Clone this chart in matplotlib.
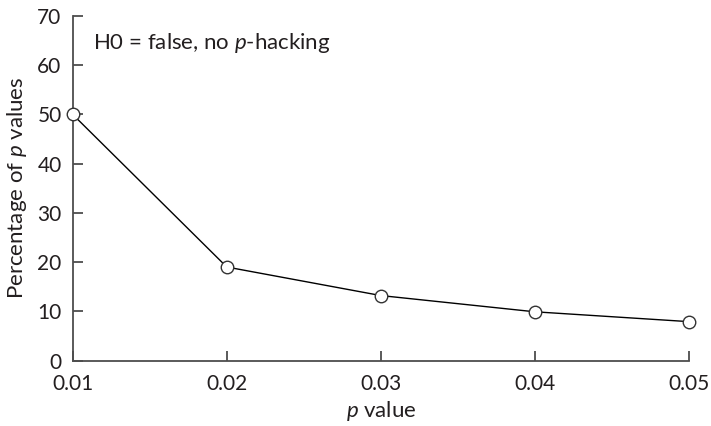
import matplotlib.pyplot as plt

# Data
p_vals = [0.01, 0.02, 0.03, 0.04, 0.05]
pct = [50, 19, 13.2, 9.9, 7.9]
x_ticks = [0.01, 0.02, 0.03, 0.04, 0.05]
x_labels = ['0.01', '0.02', '0.03', '0.04', '0.05']
y_ticks = [0, 10, 20, 30, 40, 50, 60, 70]

plt.rcParams['font.family'] = ['Lato', 'DejaVu Sans']
plt.rcParams['mathtext.fontset'] = 'custom'
plt.rcParams['mathtext.it'] = 'Lato:italic'
plt.rcParams['mathtext.rm'] = 'Lato'

txt = '#231f20'
axc = '#4d4d4d'

fig = plt.figure(figsize=(7.11, 4.26), dpi=100)
ax = fig.add_axes([0.1023, 0.1537, 0.8667, 0.8087])

ax.plot(p_vals, pct, color='black', linewidth=1.0, marker='o', markersize=9,
        markerfacecolor='white', markeredgecolor='#333333', markeredgewidth=1.0,
        clip_on=False, zorder=3)

ax.set_xlim(0.01, 0.05)
ax.set_ylim(0, 70)
ax.set_xticks(x_ticks)
ax.set_xticklabels(x_labels)
ax.set_yticks(y_ticks)

for s in ['top', 'right']:
    ax.spines[s].set_visible(False)
for s in ['left', 'bottom']:
    ax.spines[s].set_color(axc)
    ax.spines[s].set_linewidth(1.3)

ax.tick_params(direction='in', length=7, width=1.3, color=axc,
               labelsize=15, labelcolor=txt)
ax.tick_params(axis='y', pad=8)
ax.tick_params(axis='x', pad=10)

ax.set_xlabel('$p$ value', fontsize=16, color=txt, labelpad=3)
ax.set_ylabel('Percentage of $p$ values', fontsize=16, color=txt, labelpad=6)

ax.text(0.0113, 64.5, 'H0 = false, no $p$-hacking', fontsize=16,
        color=txt, va='center')

fig.savefig('out.png', dpi=100)
